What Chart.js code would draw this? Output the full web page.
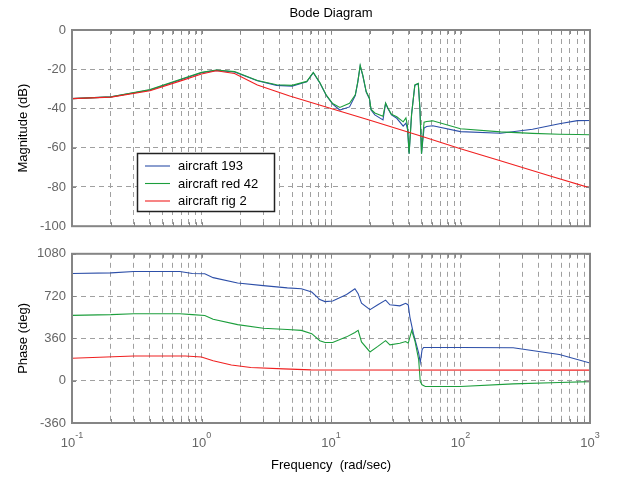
<!DOCTYPE html>
<html>
<head>
<meta charset="utf-8">
<script src="https://cdn.jsdelivr.net/npm/chart.js@4.4.1/dist/chart.umd.min.js"></script>
<style>
  html, body { margin: 0; padding: 0; background: #fff; }
  #wrap { position: relative; width: 623px; height: 478px; }
  #wrap canvas { position: absolute; left: 0; }
  #magChart { top: 0; }
  #phaseChart { top: 240px; }
</style>
</head>
<body>
<div id="wrap">
  <canvas id="magChart" width="623" height="240"></canvas>
  <canvas id="phaseChart" width="623" height="238"></canvas>
</div>
<script>
// Series names
const seriesNames = ["aircraft 193", "aircraft red 42", "aircraft rig 2"];

// Magnitude (dB) - blue & green share the frequency grid
const magFreq = [0.1, 0.2, 0.4, 0.7, 1.0, 1.3, 1.8, 2.7, 3.8, 5, 6.5, 7.3, 8.2, 9.2, 10.3, 11.7, 13.9, 15.4, 16.1, 16.8,
    17.6, 18.7, 19.8, 20.4, 21.8, 25.2, 26.4, 27.5, 29.3, 32.2, 36.1, 37.9, 39, 40.1, 41.9, 44.4, 47.2, 48.6, 50, 52.3,
    54.8, 61, 100, 204, 360, 580, 800, 1000];
const blueMag = [-35, -34.1, -30.6, -25.2, -21.8, -20.6, -21.4, -25.9, -28.2, -28.6, -26.4, -21.8, -27, -33.4, -37.8, -40.8, -39.2, -33.4, -26.6, -18.3,
    -23.2, -31.6, -35, -40.8, -43.3, -45.8, -37.4, -40, -43.3, -45, -49, -47.5, -50.8, -63, -43, -28.2, -27.4, -40, -63, -50,
    -49.2, -48.8, -51.8, -52.6, -50.6, -47.8, -46.2, -46.1];
const greenMag = [-35, -34.1, -30.4, -25, -21.6, -20.4, -21.2, -25.7, -27.9, -28.2, -26.2, -21.6, -26.8, -33.2, -37.5, -39.5, -37.4, -33, -26.4, -18,
    -23, -31.4, -34.8, -40.5, -42.3, -44, -37.2, -39.8, -43, -44.2, -46.8, -44.8, -49, -63, -43, -28, -27.2, -40, -63, -47,
    -46.6, -46.3, -50.3, -51.9, -52.7, -53.1, -53.3, -53.4];
const redMagFreq = [0.1, 0.2, 0.4, 0.7, 1.0, 1.3, 1.8, 2.7, 4.8, 10, 20, 50, 100, 200, 500, 1000];
const redMag = [-35, -34.2, -31, -25.8, -22.4, -20.8, -22.2, -28, -33.6, -40, -46, -54.2, -60.5, -66.5, -74.5, -80.5];

// Phase (deg)
const bluePhaseFreq = [0.1, 0.2, 0.3, 0.68, 0.85, 1.06, 1.23, 1.9, 3.0, 4.6, 5.9, 7.1, 8.2, 9.0, 10.3, 13.2, 15.3, 16.2, 17.2, 20,
    23, 26.4, 28.5, 34, 37.7, 39.5, 40.7, 43.3, 47.5, 48.9, 50.5, 51.9, 100, 255, 325, 580, 1000];
const bluePhase = [912, 918, 930, 930, 912, 910, 877, 831, 809, 790, 782, 755, 690, 673, 678, 733, 782, 741, 659, 605,
    646, 686, 646, 637, 659, 645, 539, 400, 237, 155, 264, 283, 283, 280, 264, 223, 150];
const greenPhaseFreq = [0.1, 0.2, 0.3, 0.68, 0.85, 1.06, 1.23, 1.9, 3.0, 4.6, 5.9, 7.1, 8.2, 9.0, 10.3, 13.2, 15.3, 16.2, 17.2, 20,
    23, 26.4, 28.5, 34, 37.7, 39.5, 42, 44.6, 47.5, 48.9, 50.5, 53.5, 100, 255, 580, 1000];
const greenPhase = [556, 562, 570, 570, 562, 555, 523, 477, 447, 436, 428, 400, 340, 325, 325, 373, 410, 428, 330, 245,
    292, 341, 305, 319, 333, 319, 428, 333, 182, -8, -35, -49, -49, -27, -15, -8];
const redPhaseFreq = [0.1, 0.3, 0.75, 1.0, 1.23, 1.7, 2.4, 4.3, 7, 1000];
const redPhase = [191, 210, 210, 202, 169, 134, 112, 101, 92, 90];

// Axis ticks
const freqDecades = [-1, 0, 1, 2, 3];
const magTicks = [-100, -80, -60, -40, -20, 0];
const phaseTicks = [-360, 0, 360, 720, 1080];

const colors = ['#2d4fa8', '#1c9e3c', '#f02020'];
const gridGrey = '#a0a0a0';
const frameGrey = '#858585';
const tickGrey = '#666666';
const FONT = '"Liberation Sans", Arial, Helvetica, sans-serif';

function pts(xs, ys) {
    return xs.map((x, i) => ({ x: x, y: ys[i] }));
}

// every 1..9 x 10^n between the decades
function logGridValues() {
    let vals = [];
    for (let e = freqDecades[0]; e < freqDecades[freqDecades.length - 1]; e++) {
        for (let m = 1; m < 10; m++) vals.push(parseFloat((m * Math.pow(10, e)).toPrecision(3)));
    }
    vals.push(Math.pow(10, freqDecades[freqDecades.length - 1]));
    return vals;
}

function makeDataset(label, data, color, order) {
    return {
        label: label,
        data: data,
        borderColor: color,
        backgroundColor: color,
        borderWidth: 1.1,
        pointRadius: 0,
        tension: 0,
        fill: false,
        order: order
    };
}

// frame with inward tick marks
const framePlugin = {
    id: 'frame',
    afterDraw(chart) {
        const { ctx, chartArea: a, scales } = chart;
        ctx.save();
        ctx.strokeStyle = frameGrey;
        ctx.lineWidth = 1;
        ctx.beginPath();
        scales.x.ticks.forEach(t => {
            let px = Math.round(scales.x.getPixelForValue(t.value)) + 0.5;
            ctx.moveTo(px, a.top); ctx.lineTo(px, a.top + 4);
            ctx.moveTo(px, a.bottom); ctx.lineTo(px, a.bottom - 4);
        });
        scales.y.ticks.forEach(t => {
            let py = Math.round(scales.y.getPixelForValue(t.value)) + 0.5;
            ctx.moveTo(a.left, py); ctx.lineTo(a.left + 4, py);
            ctx.moveTo(a.right, py); ctx.lineTo(a.right - 4, py);
        });
        ctx.stroke();
        ctx.lineWidth = 2;
        ctx.strokeRect(a.left, a.top, a.right - a.left, a.bottom - a.top);
        ctx.restore();
    }
};

// title + legend for the magnitude panel
const magExtras = {
    id: 'magExtras',
    afterDraw(chart) {
        const { ctx, chartArea: a } = chart;
        ctx.save();
        ctx.fillStyle = '#000';
        ctx.font = '13px ' + FONT;
        ctx.textAlign = 'center';
        ctx.textBaseline = 'middle';
        ctx.fillText('Bode Diagram', (a.left + a.right) / 2, 13);

        // legend box
        const bx = 137.5, by = 153.5, bw = 137, bh = 58;
        ctx.fillStyle = '#fff';
        ctx.fillRect(bx, by, bw, bh);
        ctx.strokeStyle = '#222';
        ctx.lineWidth = 1.5;
        ctx.strokeRect(bx, by, bw, bh);
        ctx.textAlign = 'left';
        const rows = [166, 183.5, 201];
        // legend in dataset order: blue, green, red
        seriesNames.forEach((name, i) => {
            ctx.strokeStyle = colors[i];
            ctx.lineWidth = 1.1;
            ctx.beginPath();
            ctx.moveTo(145, rows[i]);
            ctx.lineTo(170, rows[i]);
            ctx.stroke();
            ctx.fillStyle = '#000';
            ctx.fillText(name, 178, rows[i] + 0.5);
        });
        ctx.restore();
    }
};

// 10^n labels for the frequency axis
const freqLabels = {
    id: 'freqLabels',
    afterDraw(chart) {
        const { ctx } = chart;
        const xs = chart.scales.x;
        const baseY = chart.chartArea.bottom + 20;
        ctx.save();
        ctx.fillStyle = tickGrey;
        ctx.textBaseline = 'middle';
        ctx.textAlign = 'left';
        freqDecades.forEach(e => {
            const px = xs.getPixelForValue(Math.pow(10, e));
            const base = '10', sup = String(e);
            ctx.font = '13px ' + FONT;
            const wb = ctx.measureText(base).width;
            ctx.font = '9px ' + FONT;
            const ws = ctx.measureText(sup).width;
            const x0 = px - (wb + ws) / 2;
            ctx.font = '13px ' + FONT;
            ctx.fillText(base, x0, baseY);
            ctx.font = '9px ' + FONT;
            ctx.fillText(sup, x0 + wb, baseY - 7);
        });
        ctx.restore();
    }
};

function xScale(showTitle, fitHeight) {
    return {
        type: 'logarithmic',
        min: 0.1,
        max: 1000,
        afterBuildTicks: s => { s.ticks = logGridValues().map(v => ({ value: v })); },
        afterFit: s => { s.height = fitHeight; },
        ticks: { display: false, autoSkip: false },
        grid: { color: gridGrey, lineWidth: 1, drawTicks: false },
        border: { display: false, dash: [5, 4] },
        title: {
            display: showTitle,
            text: 'Frequency  (rad/sec)',
            color: '#000',
            font: { family: FONT, size: 13 },
            padding: { top: 0, bottom: 5 }
        }
    };
}

function yScale(title, min, max, tickList) {
    return {
        type: 'linear',
        min: min,
        max: max,
        afterBuildTicks: s => { s.ticks = tickList.map(v => ({ value: v })); },
        afterFit: s => { s.width = 72; },
        ticks: {
            color: tickGrey,
            font: { family: FONT, size: 13 },
            padding: 6,
            callback: v => String(v)
        },
        grid: { color: gridGrey, lineWidth: 1, drawTicks: false },
        border: { display: false, dash: [5, 4] },
        title: {
            display: true,
            text: title,
            color: '#000',
            font: { family: FONT, size: 13 },
            padding: { top: 16, bottom: 0 }
        }
    };
}

const commonOpts = {
    responsive: false,
    animation: false,
    devicePixelRatio: 1,
    plugins: { legend: { display: false }, tooltip: { enabled: false }, title: { display: false } }
};

new Chart(document.getElementById('magChart').getContext('2d'), {
    type: 'line',
    data: {
        datasets: [
            makeDataset(seriesNames[0], pts(magFreq, blueMag), colors[0], 3),
            makeDataset(seriesNames[1], pts(magFreq, greenMag), colors[1], 2),
            makeDataset(seriesNames[2], pts(redMagFreq, redMag), colors[2], 1)
        ]
    },
    options: Object.assign({}, commonOpts, {
        layout: { padding: { left: 0, right: 33, top: 30, bottom: 9 } },
        scales: {
            x: xScale(false, 0),
            y: yScale('Magnitude (dB)', -100, 0, magTicks)
        }
    }),
    plugins: [framePlugin, magExtras]
});

new Chart(document.getElementById('phaseChart').getContext('2d'), {
    type: 'line',
    data: {
        datasets: [
            makeDataset(seriesNames[0], pts(bluePhaseFreq, bluePhase), colors[0], 3),
            makeDataset(seriesNames[1], pts(greenPhaseFreq, greenPhase), colors[1], 2),
            makeDataset(seriesNames[2], pts(redPhaseFreq, redPhase), colors[2], 1)
        ]
    },
    options: Object.assign({}, commonOpts, {
        layout: { padding: { left: 0, right: 33, top: 7, bottom: 0 } },
        scales: {
            x: xScale(true, 55),
            y: yScale('Phase (deg)', -360, 1080, phaseTicks)
        }
    }),
    plugins: [framePlugin, freqLabels]
});
</script>
</body>
</html>
